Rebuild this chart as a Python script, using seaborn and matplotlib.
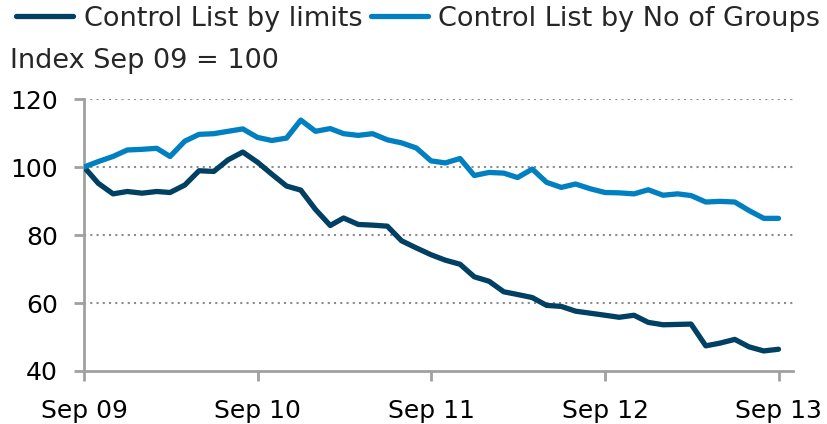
import numpy as np
import pandas as pd
import matplotlib
matplotlib.use('Agg')
import matplotlib.pyplot as plt
import matplotlib.dates as mdates
import seaborn as sns

# Monthly index values, Sep 09 = 100
months = pd.date_range('2009-09-01', '2013-09-01', freq='MS')
by_limits = [
    100.0, 95.2, 92.1, 92.8, 92.3, 92.8, 92.5, 94.7, 98.9, 98.7, 102.1, 104.4,
    101.4, 97.9, 94.4, 93.2, 87.5, 82.8, 85.0, 83.1, 82.9, 82.6, 78.3, 76.2,
    74.2, 72.6, 71.4, 67.7, 66.4, 63.3, 62.5, 61.6, 59.3, 59.0, 57.6, 57.0,
    56.4, 55.8, 56.4, 54.3, 53.6, 53.7, 53.8, 47.4, 48.2, 49.3, 47.1, 45.9, 46.4,
]
by_groups = [
    100.0, 101.6, 103.1, 105.0, 105.2, 105.5, 103.1, 107.6, 109.6, 109.8, 110.5, 111.2,
    108.7, 107.8, 108.5, 113.8, 110.5, 111.3, 109.8, 109.3, 109.8, 108.0, 107.1, 105.6,
    101.8, 101.2, 102.5, 97.5, 98.4, 98.2, 96.9, 99.4, 95.5, 94.0, 95.0, 93.6,
    92.5, 92.4, 92.1, 93.3, 91.7, 92.1, 91.6, 89.7, 89.9, 89.7, 87.2, 84.9, 84.9,
]
labels = ['Control List by limits', 'Control List by No of Groups']
colors = ['#004062', '#0080C0']

df = pd.DataFrame({'date': months, labels[0]: by_limits, labels[1]: by_groups})
long = df.melt(id_vars='date', var_name='series', value_name='value')

sns.set_style('white')
plt.rcParams['font.family'] = ['DejaVu Sans']

fig = plt.figure(figsize=(8.27, 4.24), dpi=100)
ax = fig.add_axes([0.1016, 0.125, 0.857, 0.6415])

sns.lineplot(
    data=long, x='date', y='value', hue='series', palette=colors,
    linewidth=3.8, ax=ax, legend=False
)
for line in ax.lines:
    line.set_solid_capstyle('round')
    line.set_solid_joinstyle('round')

ax.set_xlim(pd.Timestamp('2009-09-01'), pd.Timestamp('2013-10-01'))
ax.set_ylim(40, 120)
ax.set_yticks([40, 60, 80, 100, 120])
ax.set_xticks(pd.date_range('2009-09-01', '2013-09-01', freq='12MS'))
ax.xaxis.set_major_formatter(mdates.DateFormatter('%b %y'))
ax.set_xlabel('')
ax.set_ylabel('')

for y in [60, 80, 100, 120]:
    ax.axhline(y, color='#8c8c8c', linestyle=(0, (1, 2)), linewidth=1.5, zorder=0)

for side in ['top', 'right']:
    ax.spines[side].set_visible(False)
for side in ['left', 'bottom']:
    ax.spines[side].set_color('#a0a0a0')
    ax.spines[side].set_linewidth(2)
    ax.spines[side].set_zorder(1)
ax.tick_params(axis='both', which='major', bottom=True, left=True, direction='out',
               length=7, width=2, color='#a0a0a0', labelsize=18, labelcolor='black')
ax.tick_params(axis='y', pad=12)
ax.tick_params(axis='x', pad=13)

fig.text(0.012, 0.857, 'Index Sep 09 = 100', fontsize=19.5, va='center', ha='left')

handles = [plt.Line2D([], [], color=c, linewidth=3.8, solid_capstyle='round') for c in colors]
fig.legend(handles, labels, loc='upper left', bbox_to_anchor=(0.0, 1.025), ncol=2,
           frameon=False, fontsize=19.5, handlelength=2.1, handletextpad=0.4,
           columnspacing=0.3, borderaxespad=0.2)

fig.savefig('out.png', dpi=100)
